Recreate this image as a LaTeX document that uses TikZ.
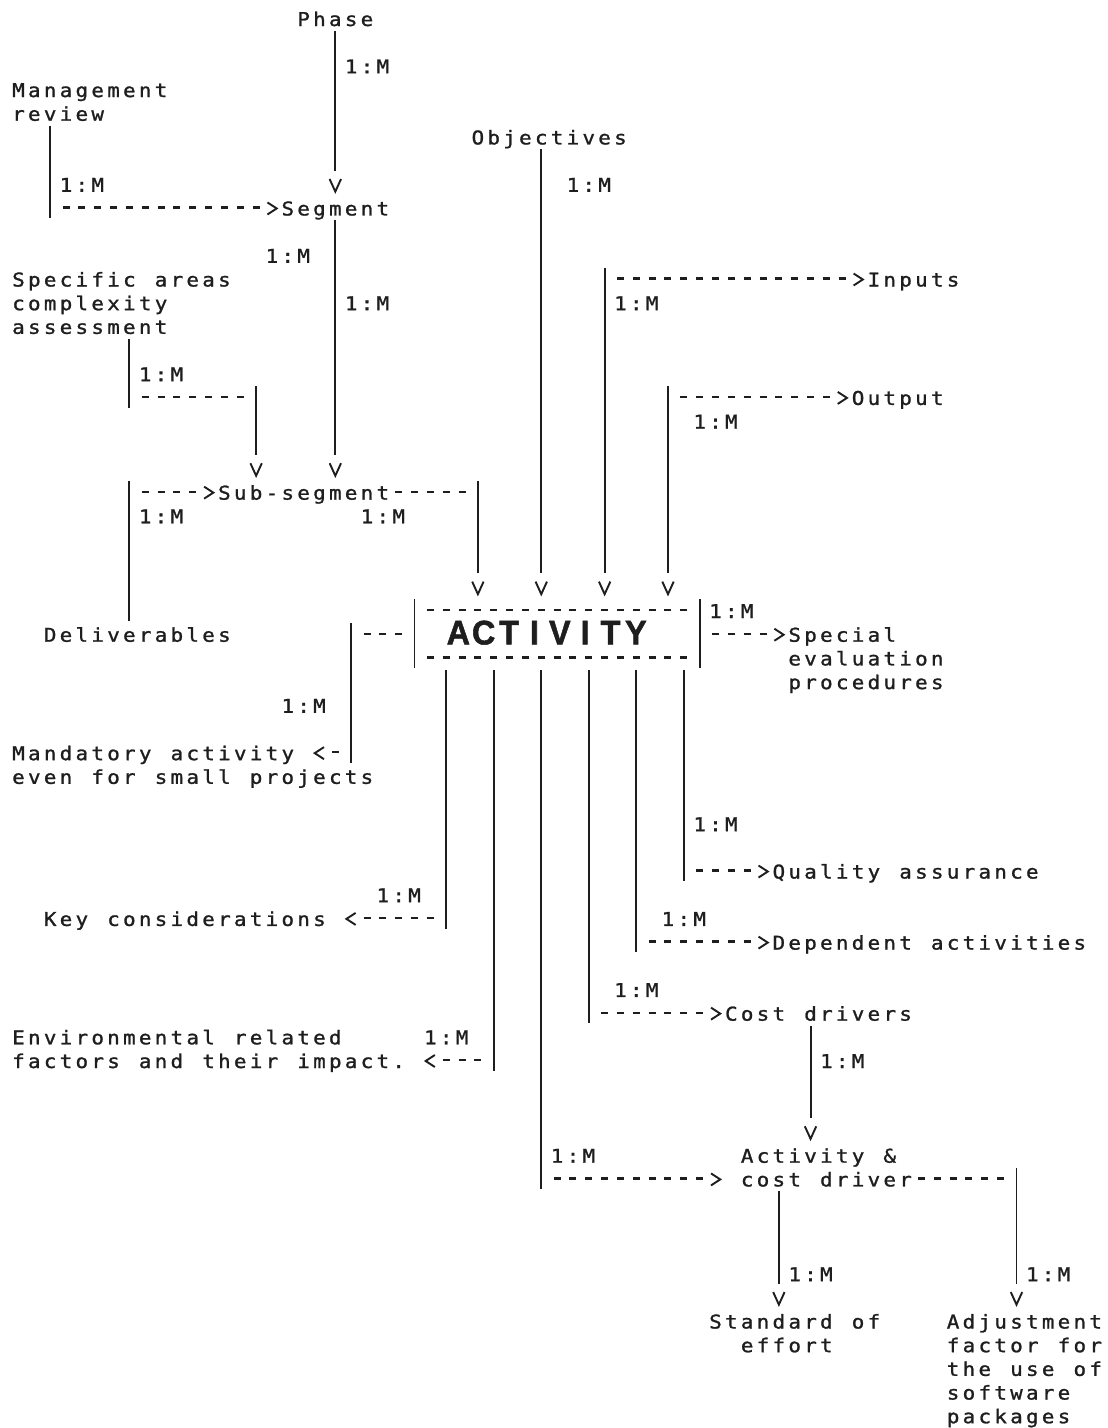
\documentclass[tikz,border=0pt]{standalone}
\usepackage{fontspec}
\newfontfamily\mtfont{DejaVu Sans Mono}[FakeStretch=1.1,FakeBold=1.2]
\newfontfamily\actfont{Liberation Sans}[FakeStretch=0.95,FakeBold=1.5]
\definecolor{ink}{HTML}{1E1E1E}
\newlength\mtw
\setlength\mtw{15.84pt}
\def\mtstop{\mtstop}
\def\mt#1{\mtloop#1\mtstop}
\def\mtloop#1{\ifx#1\mtstop\else\makebox[\mtw][c]{#1}\expandafter\mtloop\fi}
\newcommand\actword{\begingroup\setlength\mtw{25.36pt}\mt{ACTIVITY}\endgroup}
\tikzset{
  txt/.style={anchor=base west, inner sep=0pt, outer sep=0pt,
    font=\mtfont\fontsize{19pt}{23.68pt}\selectfont, text=ink},
  bar/.style={draw=ink, line width=1.9pt},
  dashrun/.style={draw=ink, line width=2.2pt, dash pattern=on 7pt off 8.84pt},
  tipline/.style={draw=ink, line width=1.9pt, line join=miter},
}
% grid helpers: column c, row r
\newcommand\tx[4]{\node[txt] (#1) at ({#2-0.5},{-(#3)-0.338}) {\mt{#4}};}
\newcommand\vbar[3]{\draw[bar] (#1,{-(#2)+0.45}) -- (#1,{-(#3)-0.45});}
\newcommand\hdash[3]{\draw[dashrun] ({#1-0.221},{-(#3)}) -- ({#2+0.221},{-(#3)});}
\newcommand\tipV[2]{\draw[tipline] ({#1-0.36},{-(#2)+0.2}) -- (#1,{-(#2)-0.33}) -- ({#1+0.36},{-(#2)+0.2});}
\newcommand\tipR[2]{\draw[tipline] ({#1-0.284},{-(#2)+0.211}) -- ({#1+0.3},{-(#2)-0.042}) -- ({#1-0.284},{-(#2)-0.296});}
\newcommand\tipL[2]{\draw[tipline] ({#1+0.284},{-(#2)+0.211}) -- ({#1-0.3},{-(#2)-0.042}) -- ({#1+0.284},{-(#2)-0.296});}
\begin{document}
\begin{tikzpicture}[x=15.84pt, y=23.68pt]
\useasboundingbox (-1.168,0.760) rectangle (68.72,-59.54);
\fill[white] (-1.168,0.760) rectangle (68.72,-59.54);

% ---------- texts ----------
\tx{phase}{18}{0}{Phase}
\tx{mgmt}{0}{3}{Management}
\tx{mgmt2}{0}{4}{review}
\tx{obj}{29}{5}{Objectives}
\tx{segment}{17}{8}{Segment}
\tx{spec}{0}{11}{Specific~areas}
\tx{spec2}{0}{12}{complexity}
\tx{spec3}{0}{13}{assessment}
\tx{inputs}{54}{11}{Inputs}
\tx{output}{53}{16}{Output}
\tx{subseg}{13}{20}{Sub-segment}
\tx{deliv}{2}{26}{Deliverables}
\tx{special}{49}{26}{Special}
\tx{special2}{49}{27}{evaluation}
\tx{special3}{49}{28}{procedures}
\tx{mand}{0}{31}{Mandatory~activity}
\tx{mand2}{0}{32}{even~for~small~projects}
\tx{qa}{48}{36}{Quality~assurance}
\tx{key}{2}{38}{Key~considerations}
\tx{dep}{48}{39}{Dependent~activities}
\tx{cost}{45}{42}{Cost~drivers}
\tx{env}{0}{43}{Environmental~related}
\tx{env2}{0}{44}{factors~and~their~impact.}
\tx{acd}{46}{48}{Activity~\&}
\tx{acd2}{46}{49}{cost~driver}
\tx{std}{44}{55}{Standard~of}
\tx{std2}{46}{56}{effort}
\tx{adj}{59}{55}{Adjustment}
\tx{adj2}{59}{56}{factor~for}
\tx{adj3}{59}{57}{the~use~of}
\tx{adj4}{59}{58}{software}
\tx{adj5}{59}{59}{packages}

\node[anchor=base, inner sep=0pt, text=ink,
  font=\actfont\bfseries\fontsize{34pt}{40pt}\selectfont] (activity) at (33.37,-26.45) {\actword};

% ---------- cardinality labels ----------
\tx{m1}{21}{2}{1:M}
\tx{m2}{3}{7}{1:M}
\tx{m3}{35}{7}{1:M}
\tx{m4}{16}{10}{1:M}
\tx{m5}{21}{12}{1:M}
\tx{m6}{38}{12}{1:M}
\tx{m7}{8}{15}{1:M}
\tx{m8}{43}{17}{1:M}
\tx{m9}{8}{21}{1:M}
\tx{m10}{22}{21}{1:M}
\tx{m11}{44}{25}{1:M}
\tx{m12}{17}{29}{1:M}
\tx{m13}{43}{34}{1:M}
\tx{m14}{23}{37}{1:M}
\tx{m15}{41}{38}{1:M}
\tx{m16}{38}{41}{1:M}
\tx{m17}{26}{43}{1:M}
\tx{m18}{51}{44}{1:M}
\tx{m19}{34}{48}{1:M}
\tx{m20}{49}{53}{1:M}
\tx{m21}{64}{53}{1:M}

% ---------- vertical connector lines ----------
\vbar{20}{1}{6}
\vbar{2}{5}{8}
\vbar{33}{6}{23}
\vbar{20}{9}{18}
\vbar{37}{11}{23}
\vbar{7}{14}{16}
\vbar{15}{16}{18}
\vbar{41}{16}{23}
\vbar{7}{20}{25}
\vbar{29}{20}{23}
\vbar{25}{25}{27}
\vbar{43}{25}{27}
\vbar{21}{26}{31}
\vbar{27}{28}{38}
\vbar{30}{28}{44}
\vbar{33}{28}{49}
\vbar{36}{28}{42}
\vbar{39}{28}{39}
\vbar{42}{28}{36}
\vbar{50}{43}{46}
\vbar{48}{50}{53}
\vbar{63}{49}{53}

% ---------- dashed connector lines ----------
\hdash{3}{15}{8}   \tipR{16}{8}
\hdash{38}{52}{11} \tipR{53}{11}
\hdash{8}{14}{16}
\hdash{42}{51}{16} \tipR{52}{16}
\hdash{8}{11}{20}  \tipR{12}{20}
\hdash{24}{28}{20}
\hdash{26}{42}{25}
\hdash{22}{24}{26}
\hdash{44}{47}{26} \tipR{48}{26}
\hdash{26}{42}{27}
\tipL{19}{31} \hdash{20}{20}{31}
\hdash{43}{46}{36} \tipR{47}{36}
\tipL{21}{38} \hdash{22}{26}{38}
\hdash{40}{46}{39} \tipR{47}{39}
\hdash{37}{43}{42} \tipR{44}{42}
\tipL{26}{44} \hdash{27}{29}{44}
\hdash{34}{43}{49} \tipR{44}{49}
\hdash{57}{62}{49}

% ---------- downward arrowheads ----------
\tipV{20}{7}
\tipV{15}{19}
\tipV{20}{19}
\tipV{29}{24}
\tipV{33}{24}
\tipV{37}{24}
\tipV{41}{24}
\tipV{50}{47}
\tipV{48}{54}
\tipV{63}{54}
\end{tikzpicture}
\end{document}
